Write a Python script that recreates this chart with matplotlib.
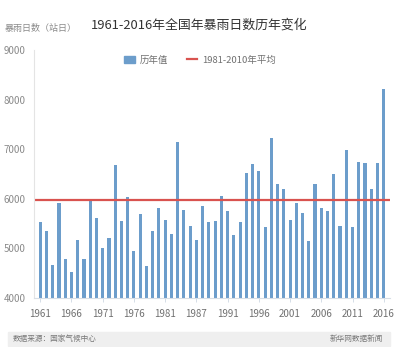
import matplotlib
matplotlib.use("Agg")
from matplotlib import pyplot as plt
from matplotlib.patches import Patch, Rectangle
from matplotlib.lines import Line2D
import numpy as np

plt.rcParams['font.family'] = ['Noto Sans CJK SC', 'DejaVu Sans']

years = list(range(1961, 2017))
rain_days = [5540, 5360, 4670, 5910, 4780, 4520, 5160, 4780, 5955, 5620,
             5010, 5210, 6675, 5550, 6040, 4950, 5690, 4640, 5350, 5810,
             5570, 5300, 7150, 5770, 5450, 5160, 5850, 5530, 5560, 6050,
             5750, 5270, 5530, 6530, 6700, 6570, 5425, 7220, 6295, 6190,
             5570, 5915, 5720, 5140, 6290, 5810, 5750, 6510, 5460, 6980,
             5430, 6750, 6720, 6200, 6720, 8215]
avg_1981_2010 = 5970
tick_labels = ["1961", "1966", "1971", "1976", "1981", "1987",
               "1991", "1996", "2001", "2006", "2011", "2016"]

bar_color = '#6c9dcb'
line_color = '#d9534f'
gray = '#8a8a8a'

fig = plt.figure(figsize=(3.98, 3.47), dpi=100)
ax = fig.add_axes([34 / 398, 49 / 347, 356 / 398, 248 / 347])

x = np.arange(len(years))
ax.bar(x, rain_days, width=0.5, color=bar_color)
ax.axhline(avg_1981_2010, color=line_color, lw=1.6)

ax.set_xlim(-1, 56)
ax.set_ylim(4000, 9000)
ax.set_yticks([4000, 5000, 6000, 7000, 8000, 9000])
ax.tick_params(axis='y', length=0, labelsize=7, colors=gray, pad=6)
ax.set_xticks(x[::5])
ax.set_xticklabels(tick_labels)
ax.tick_params(axis='x', length=3, width=0.6, color='#cfd8e3', labelsize=7,
               labelcolor='#707070', pad=5)
for s in ['top', 'right']:
    ax.spines[s].set_visible(False)
ax.spines['left'].set_color('#e4e4e4')
ax.spines['bottom'].set_color('#d8dee6')
ax.spines['left'].set_linewidth(0.8)
ax.spines['bottom'].set_linewidth(0.8)

fig.text(199 / 398, 1 - 25 / 347, "1961-2016年全国年暴雨日数历年变化",
         ha='center', va='center', fontsize=9.3, color='#333333')
fig.text(5 / 398, 1 - 29 / 347, "暴雨日数（站日）", ha='left', va='center',
         fontsize=6.5, color=gray)

handles = [Patch(color=bar_color), Line2D([0], [0], color=line_color, lw=1.6)]
fig.legend(handles, ["历年值", "1981-2010年平均"], loc='center',
           bbox_to_anchor=(200 / 398, 1 - 60 / 347), ncol=2, frameon=False,
           fontsize=6.8, handlelength=1.1, handleheight=0.8, handletextpad=0.5,
           columnspacing=2.0, labelcolor='#707070')

fig.patches.append(Rectangle((8 / 398, 1 - 346 / 347), 382 / 398, 14 / 347,
                             transform=fig.transFigure, color='#efefef', zorder=0))
fig.text(13 / 398, 1 - 339 / 347, "数据来源：国家气候中心", ha='left', va='center',
         fontsize=5.5, color='#777777', style='italic')
fig.text(383 / 398, 1 - 339 / 347, "新华网数据新闻", ha='right', va='center',
         fontsize=5.5, color='#777777', style='italic')

fig.savefig("out.png", dpi=100)
